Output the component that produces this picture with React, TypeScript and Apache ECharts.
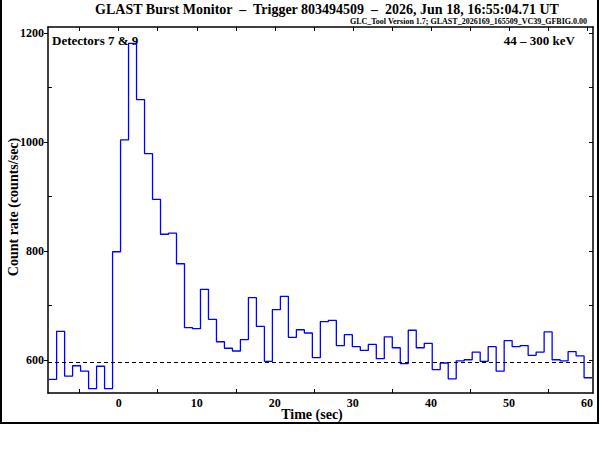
import React, { useEffect, useRef } from "react";
import * as echarts from "echarts";

// ---- data ----
const titleText = "GLAST Burst Monitor  \u2013  Trigger 803494509  \u2013  2026, Jun 18, 16:55:04.71 UT";
const subtitleText = "GLC_Tool Version 1.7; GLAST_2026169_165509_VC39_GFBIG.0.00";
const detectorText = "Detectors 7 & 9";
const energyText = "44 \u2013 300 keV";
const xTitle = "Time (sec)";
const yTitle = "Count rate (counts/sec)";

const binStart = -8.98; // left edge of first bin (sec)
const binWidth = 1.024; // sec
const rates = [
  565, 653, 571, 590, 580, 548, 589, 548, 799, 1004, 1181, 1078, 979, 895, 831, 833,
  777, 660, 658, 730, 675, 634, 622, 617, 638, 715, 662, 598, 693, 717, 642, 656,
  650, 605, 671, 673, 627, 647, 625, 618, 629, 603, 643, 623, 594, 655, 623, 631,
  583, 595, 566, 599, 601, 615, 598, 625, 580, 636, 625, 627, 609, 615, 652, 601,
  599, 616, 608, 568,
];
const backgroundLevel = 596;

const xMin = -9.06;
const xMax = 60.77;
const yMin = 540;
const yMax = 1211;
const xLabelValues = [0, 10, 20, 30, 40, 50, 60];
const xBottomTicks = [-5, 5, 15, 25, 35, 45, 55];
const xTopTicks = [-5, 0, 5, 10, 15, 20, 25, 30, 35, 40, 45, 50, 55, 60];
const yLabelValues = [600, 800, 1000, 1200];
const yMinorTicks = [700, 900, 1100];
const yRightTicks = [600, 700, 800, 900, 1000, 1100, 1200];

const FONT = "Liberation Serif";

export default function App() {
  const ref = useRef<HTMLDivElement>(null);
  useEffect(() => {
    if (!ref.current) return;
    const chart = echarts.init(ref.current, undefined, { renderer: "svg" });

    const stepData: [number, number][] = rates.map((v, i) => [binStart + i * binWidth, v]);
    stepData.push([binStart + rates.length * binWidth, rates[rates.length - 1]]);

    const axisLine = { show: true, onZero: false, lineStyle: { color: "#000", width: 1.5 } };
    const noLine = { show: false, onZero: false };
    const hidden = { show: false };
    const plain = (v: number) => String(v);

    chart.setOption({
      animation: false,
      backgroundColor: "#fff",
      grid: { left: 48, right: 7, top: 27, bottom: 57, containLabel: false },
      xAxis: [
        {
          type: "value",
          position: "bottom",
          min: xMin,
          max: xMax,
          axisLine,
          splitLine: hidden,
          axisTick: {
            show: true,
            inside: true,
            length: 4,
            customValues: xBottomTicks,
            lineStyle: { color: "#000", width: 1 },
          },
          axisLabel: {
            show: true,
            customValues: xLabelValues,
            formatter: plain,
            margin: 4,
            color: "#000",
            fontFamily: FONT,
            fontWeight: "bold",
            fontSize: 12,
          },
        },
        {
          type: "value",
          position: "top",
          min: xMin,
          max: xMax,
          axisLine,
          splitLine: hidden,
          axisTick: {
            show: true,
            inside: true,
            length: 4,
            customValues: xTopTicks,
            lineStyle: { color: "#000", width: 1 },
          },
          axisLabel: hidden,
        },
      ],
      yAxis: [
        {
          type: "value",
          position: "left",
          min: yMin,
          max: yMax,
          axisLine,
          splitLine: hidden,
          axisTick: {
            show: true,
            inside: false,
            length: 4,
            customValues: yLabelValues,
            lineStyle: { color: "#000", width: 1 },
          },
          axisLabel: {
            show: true,
            customValues: yLabelValues,
            formatter: plain,
            margin: 4,
            color: "#000",
            fontFamily: FONT,
            fontWeight: "bold",
            fontSize: 12,
          },
        },
        {
          type: "value",
          position: "left",
          min: yMin,
          max: yMax,
          axisLine: noLine,
          splitLine: hidden,
          axisTick: {
            show: true,
            inside: true,
            length: 4,
            customValues: yMinorTicks,
            lineStyle: { color: "#000", width: 1 },
          },
          axisLabel: hidden,
        },
        {
          type: "value",
          position: "right",
          min: yMin,
          max: yMax,
          axisLine,
          splitLine: hidden,
          axisTick: {
            show: true,
            inside: true,
            length: 4,
            customValues: yRightTicks,
            lineStyle: { color: "#000", width: 1 },
          },
          axisLabel: hidden,
        },
      ],
      series: [
        {
          type: "line",
          xAxisIndex: 0,
          yAxisIndex: 0,
          step: "end",
          data: stepData,
          showSymbol: false,
          symbol: "none",
          clip: true,
          lineStyle: { color: "#0000ff", width: 1.3 },
          markLine: {
            silent: true,
            symbol: ["none", "none"],
            label: { show: false },
            lineStyle: { color: "#000", width: 1, type: [4, 3] },
            data: [{ yAxis: backgroundLevel }],
          },
        },
      ],
      graphic: [
        {
          type: "polyline",
          shape: { points: [[1, 0], [1, 423], [598, 423], [598, 0]] },
          style: { stroke: "#000", lineWidth: 2, fill: "none" },
        },
        {
          type: "text",
          x: 327,
          y: 9,
          style: {
            text: titleText,
            fontFamily: FONT,
            fontWeight: "bold",
            fontSize: 14,
            fill: "#000",
            align: "center",
            verticalAlign: "middle",
          },
        },
        {
          type: "text",
          x: 587,
          y: 21,
          style: {
            text: subtitleText,
            fontFamily: FONT,
            fontWeight: "bold",
            fontSize: 8,
            fill: "#000",
            align: "right",
            verticalAlign: "middle",
          },
        },
        {
          type: "text",
          x: 52,
          y: 40,
          style: {
            text: detectorText,
            fontFamily: FONT,
            fontWeight: "bold",
            fontSize: 13,
            fill: "#000",
            align: "left",
            verticalAlign: "middle",
          },
        },
        {
          type: "text",
          x: 575,
          y: 40,
          style: {
            text: energyText,
            fontFamily: FONT,
            fontWeight: "bold",
            fontSize: 13,
            fill: "#000",
            align: "right",
            verticalAlign: "middle",
          },
        },
        {
          type: "text",
          x: 312,
          y: 414,
          style: {
            text: xTitle,
            fontFamily: FONT,
            fontWeight: "bold",
            fontSize: 14,
            fill: "#000",
            align: "center",
            verticalAlign: "middle",
          },
        },
        {
          type: "text",
          x: 13,
          y: 207,
          rotation: Math.PI / 2,
          style: {
            text: yTitle,
            fontFamily: FONT,
            fontWeight: "bold",
            fontSize: 14,
            fill: "#000",
            align: "center",
            verticalAlign: "middle",
          },
        },
      ],
    });
    return () => chart.dispose();
  }, []);

  return (
    <div
      ref={ref}
      style={{ position: "absolute", left: 0, top: 0, width: 600, height: 450, background: "#fff" }}
    />
  );
}
